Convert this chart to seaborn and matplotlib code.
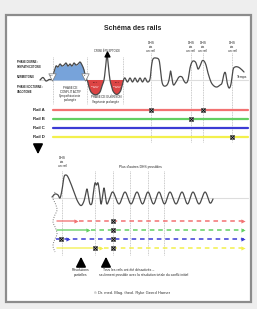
import numpy as np
import pandas as pd
import seaborn as sns
import matplotlib.pyplot as plt
from matplotlib.patches import Rectangle

sns.set_theme(style="white")
plt.rcParams['font.family'] = ['Liberation Sans', 'DejaVu Sans']

# ---------------- data ----------------
rails = ["Rail A", "Rail B", "Rail C", "Rail D"]
rail_colors = ["#f27272", "#62cf62", "#3b3bd4", "#f3f04c"]
rail_y_top = [110, 119, 128, 137]
rail_y_bot = [221, 230, 239, 248]

dhs_top_x = [151, 191, 203, 232]
top_hits = [("Rail A", 151), ("Rail A", 203), ("Rail B", 191), ("Rail D", 232)]

bottom_lines_x = [62, 95, 113, 130, 148, 164]
bot_arrow_x = [76, 88, 68, 101]
bot_solid = [True, True, False, True]
bot_hits = [("Rail C", 61), ("Rail D", 95), ("Rail A", 113), ("Rail B", 113),
            ("Rail C", 113), ("Rail D", 113)]

upper_x = [40, 43, 46, 49, 52, 54, 56, 58, 60, 62, 64, 66, 68, 70, 72, 74, 76, 78, 80, 82, 84, 86,
           87.5, 89, 91, 94, 97, 100, 102, 104, 105.5, 107, 108.5, 110,
           111.5, 113, 115.5, 118, 120.5, 122, 123.5,
           125, 127.5, 130, 132.5, 135, 137.5, 140, 142.5, 145, 147.5, 150,
           151.5, 153, 156, 159, 160.5, 162, 164, 167, 169, 170.5, 172, 173.5, 176, 179, 182, 184,
           186, 188, 190, 192, 194, 196, 198, 200, 202, 204, 206, 208, 211, 214, 217, 220, 222,
           224, 225.5, 227, 229, 231, 233, 235, 238, 241, 244]
upper_y = [80, 77.5, 81, 79.5, 79, 72, 66, 67, 64, 66, 65, 63, 66, 64, 66, 63, 65, 64, 62, 65, 70, 79,
           81, 87, 92, 94.5, 94.5, 92, 86, 80, 68, 55, 68, 80,
           86, 91, 94, 94, 91, 86, 80,
           78, 82, 78, 82, 78, 82, 78, 82, 78, 82, 79,
           66, 59, 58, 60, 70, 82, 86, 85, 80, 71, 79, 85, 82, 77, 77, 81,
           83, 80, 68, 62, 61, 63, 69, 66, 61, 61, 65, 73, 82, 86, 87, 85, 83,
           74, 73, 82, 88, 84, 70, 67, 67, 69, 72]

lower_x = [52, 55, 58, 60, 62, 64, 66, 68, 71, 74, 77, 80, 82, 84, 85.5, 87, 88.5, 90, 92, 93.5, 95,
           96.5, 98, 99.5, 101, 102.5, 104, 105.5, 107, 109.5,
           113, 119, 125, 131, 137, 142.5, 148, 153.5, 159, 164.5, 170, 176, 182, 187.5, 193, 199,
           205, 210, 213]
lower_y = [197, 194, 195, 198, 190, 177, 175, 177, 184, 192, 200, 205, 205, 201, 195, 189, 197, 204,
           203, 192, 183, 185, 183, 192, 204, 197, 188, 197, 204, 199,
           192, 204, 192, 204, 192, 204, 192, 204, 192, 204, 192, 204, 192, 204, 192, 204,
           192, 203, 199]

left_wave_x = [55, 53, 55.5, 57, 54.5, 53, 55.5, 57, 54.5, 53, 55]
left_wave_y = [192, 198, 204, 210, 216, 222, 228, 234, 240, 246, 252]


def smooth(xs, ys, n=8):
    p = np.column_stack([xs, ys]).astype(float)
    p = np.vstack([p[0], p, p[-1]])
    out = []
    t = np.linspace(0, 1, n, endpoint=False)[:, None]
    for i in range(1, len(p) - 2):
        p0, p1, p2, p3 = p[i - 1], p[i], p[i + 1], p[i + 2]
        seg = 0.5 * ((2 * p1) + (-p0 + p2) * t + (2 * p0 - 5 * p1 + 4 * p2 - p3) * t ** 2
                     + (-p0 + 3 * p1 - 3 * p2 + p3) * t ** 3)
        out.append(seg)
    out.append(p[-2][None, :])
    a = np.vstack(out)
    return a[:, 0], a[:, 1]


# ---------------- figure ----------------
fig = plt.figure(figsize=(2.57, 3.09), dpi=100, facecolor="#eeeeee")
ax = fig.add_axes([0, 0, 1, 1])
ax.set_xlim(0, 257)
ax.set_ylim(309, 0)
ax.axis("off")
ax.add_patch(Rectangle((6, 15), 245, 287, facecolor="white", edgecolor="#8c8c8c", lw=1.6, zorder=0))

ax.text(133, 28, "Schéma des rails", ha="center", va="center", fontsize=5, fontweight="bold")

def dotted_v(x, y0, y1):
    ax.plot([x, x], [y0, y1], color="#b8b8b8", lw=0.6, ls=(0, (1, 1)), zorder=1)

for x in [53, 87, 123]:
    dotted_v(x, 57, 104)
for x in dhs_top_x:
    dotted_v(x, 53, 142)
for x in bottom_lines_x:
    dotted_v(x, 171, 255)

ax.plot([40, 248], [80, 80], color="#dddddd", lw=0.8, zorder=1)
ax.plot([52, 248], [198, 198], color="#dddddd", lw=0.8, zorder=1)

# upper curve
ux, uy = smooth(upper_x, upper_y)
m_blue = (ux >= 52) & (ux <= 86.5)
ax.fill_between(ux, uy, 80, where=m_blue & (uy < 80.5), color="#77a3da", zorder=2, lw=0)
m_red = (((ux >= 86) & (ux <= 104)) | ((ux >= 110) & (ux <= 124))) & (uy > 80)
ax.fill_between(ux, uy, 80, where=m_red, color="#dc4444", zorder=2, lw=0)
sns.lineplot(x=ux, y=uy, sort=False, ax=ax, color="#4a4a4a", lw=0.9, zorder=3, estimator=None)
ax.scatter([107], [53.5], marker="^", s=12, color="black", zorder=4)

for x, lab in [(52, "DHS"), (85, "CL")]:
    ax.scatter([x], [76.5], marker="v", s=28, facecolor="white", edgecolor="#777777", lw=0.5, zorder=5)
    ax.text(x, 75.5, lab, fontsize=1.3, ha="center", va="center", zorder=6)
for x in [95.5, 117.5]:
    ax.text(x, 82.5, "PCL-A", fontsize=1.3, ha="center", va="center", color="black", zorder=6)
    ax.text(x, 86.5, "Réparation\nœdème", fontsize=1.3, ha="center", va="center", color="white", zorder=6)

lab_kw = dict(fontsize=1.9, fontweight="bold", ha="left", va="center", color="#222222")
ax.text(17, 64.5, "PHASE DIURNE :\nSYMPATHICOTONIE", linespacing=1.1, **lab_kw)
ax.text(17, 77.5, "NORMOTONIE", **lab_kw)
ax.text(17, 89.5, "PHASE NOCTURNE :\nVAGOTONIE", linespacing=1.1, **lab_kw)

small = dict(fontsize=2.1, ha="center", va="center", color="#222222")
ax.text(107, 50.5, "CRISE ÉPILEPTOÏDE", fontsize=1.9, ha="center", va="center")
ax.text(70, 94, "PHASE DE\nCONFLIT ACTIF\nSympathicotonie\nprolongée", linespacing=1.05, **small)
ax.text(106, 99.5, "PHASE DE GUÉRISON\nVagotonie prolongée", linespacing=1.1, **small)
ax.text(242, 77, "Temps", fontsize=2.5, ha="center", va="center")

for x in dhs_top_x:
    ax.text(x, 47, "DHS\nvia\nun rail", linespacing=1.0, fontsize=2.3, ha="center", va="center")

for name, c, y in zip(rails, rail_colors, rail_y_top):
    ax.text(45, y, name, fontsize=3.1, fontweight="bold", ha="right", va="center")
    sns.lineplot(x=[53, 248], y=[y, y], ax=ax, color=c, lw=1.6, zorder=2)

def xmark(x, y):
    ax.scatter([x], [y], marker="s", s=11, facecolor="#bfbfbf", edgecolor="#333333", lw=0.4, zorder=6)
    ax.scatter([x], [y], marker="x", s=7, color="black", lw=0.6, zorder=7)

ymap_top = dict(zip(rails, rail_y_top))
for r, x in top_hits:
    xmark(x, ymap_top[r])

ax.annotate("", xy=(38, 157), xytext=(38, 145),
            arrowprops=dict(arrowstyle="-|>,head_width=0.25,head_length=0.5", color="black", lw=1.2))

ax.text(62, 162, "DHS\nvia\nun rail", linespacing=1.0, fontsize=2.3, ha="center", va="center")
ax.text(140, 167, "Plus d'autres DHS possibles", fontsize=2.4, ha="center", va="center")

lx, ly = smooth(lower_x, lower_y)
sns.lineplot(x=lx, y=ly, sort=False, ax=ax, color="#4a4a4a", lw=0.9, zorder=3, estimator=None)
wx, wy = smooth(left_wave_x, left_wave_y)
ax.plot(wx, wy, color="#777777", lw=0.7, ls=(0, (1, 1.5)), zorder=3)

ymap_bot = dict(zip(rails, rail_y_bot))
for name, c, y, ax_x, solid in zip(rails, rail_colors, rail_y_bot, bot_arrow_x, bot_solid):
    if solid:
        ax.plot([57, ax_x], [y, y], color=c, lw=1.1, alpha=0.85, zorder=2)
        ax.plot([ax_x + 3, 244], [y, y], color=c, lw=1.1, ls=(0, (3, 2.5)), zorder=2)
    else:
        ax.plot([56, 244], [y, y], color=c, lw=1.1, ls=(0, (3, 2.5)), zorder=2)
    ax.scatter([ax_x, 243], [y, y], marker=">", s=9, color=c, zorder=4, lw=0)
for r, x in bot_hits:
    xmark(x, ymap_bot[r])

for x in [81, 106]:
    ax.annotate("", xy=(x, 254), xytext=(x, 264),
                arrowprops=dict(arrowstyle="-|>,head_width=0.25,head_length=0.5", color="black", lw=1.2))
ax.text(81, 272.5, "Résolutions\npartielles", linespacing=1.1, fontsize=2.4, ha="center", va="center")
ax.text(103, 270, "Tous les rails ont été désactivés –", fontsize=2.4, ha="left", va="center")
ax.text(99, 275, "seulement possible avec la résolution totale du conflit initial", fontsize=2.4,
        ha="left", va="center")

ax.text(132, 293, "© Dr. med. Mag. theol. Ryke Geerd Hamer", fontsize=2.9, ha="center", va="center",
        color="#333333")

fig.savefig("out.png", dpi=100, facecolor=fig.get_facecolor())
